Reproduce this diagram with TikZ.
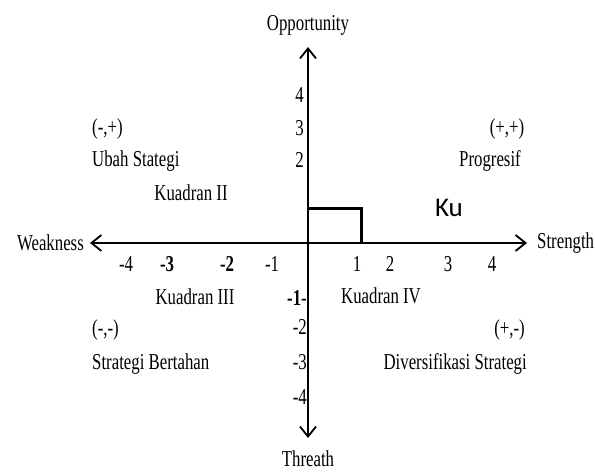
\documentclass[tikz,border=0pt]{standalone}
\usepackage{fontspec}
\setmainfont[FakeStretch=0.74]{Liberation Serif}
\newfontfamily\calibrifont{Carlito}
\usepackage{tikz}
\usetikzlibrary{positioning, arrows.meta}

\tikzset{
  axisline/.style={line width=1.8pt, {Straight Barb[length=10pt,width=16pt]}-{Straight Barb[length=10pt,width=16pt]}},
  boxline/.style={line width=3pt},
  lbl/.style={inner sep=0pt}
}

\begin{document}
\begin{tikzpicture}[x=1pt, y=-1pt, font=\fontsize{22.7}{26}\selectfont]
    \useasboundingbox (0,0) rectangle (595,473);

    % Axes
    \coordinate (wtip) at (90,243);
    \coordinate (stip) at (527,243);
    \coordinate (otip) at (308,47);
    \coordinate (ttip) at (308,438);
    \draw[axisline] (wtip) -- (stip);
    \draw[axisline] (otip) -- (ttip);

    \node[lbl] (opp) at (308,25) {Opportunity};
    \node[lbl] (thr) at (308,459) {Threath};
    \node[lbl, anchor=east] (weak) at (84,243) {Weakness};
    \node[lbl, anchor=west] (str) at (537,243) {Strength};

    % Tick labels
    \foreach \t/\px [count=\i] in {-4/126, \textbf{-3}/167, \textbf{-2}/227, -1/272, 1/357, 2/390, 3/448, 4/492}
      \node[lbl] (xt\i) at (\px,264) {\t};
    \foreach \t/\py [count=\i] in {4/95, 3/128, 2/160}
      \node[lbl, anchor=east] (yt\i) at (304,\py) {\t};
    \foreach \t/\py [count=\i] in {\textbf{-1}-/298, -2/327, -3/362, -4/397}
      \node[lbl, anchor=east] (yb\i) at (307,\py) {\t};

    % Position box
    \coordinate (rtop) at (308,209);
    \coordinate (rcorner) at (361,209);
    \coordinate (rbase) at (361,243);
    \draw[boxline] (rtop) -- (rcorner) -- (rbase);
    \node[lbl, font=\calibrifont\fontsize{27}{30}\selectfont] (ku) at (449,208) {Ku};

    % Quadrant II
    \node[lbl, anchor=west] (q2sign) at (92,129) {(-,+)};
    \node[lbl, anchor=west] (q2name) at (92,161) {Ubah Stategi};
    \node[lbl] (q2) at (191,193) {Kuadran II};

    % Quadrant I
    \node[lbl] (q1sign) at (507,129) {(+,+)};
    \node[lbl] (q1name) at (490,161) {Progresif};

    % Quadrant III
    \node[lbl] (q3) at (195,297) {Kuadran III};
    \node[lbl, anchor=west] (q3sign) at (92,330) {(-,-)};
    \node[lbl, anchor=west] (q3name) at (92,364) {Strategi Bertahan};

    % Quadrant IV
    \node[lbl] (q4) at (381,296) {Kuadran IV};
    \node[lbl, anchor=east] (q4sign) at (525,330) {(+,-)};
    \node[lbl, anchor=east] (q4name) at (527,364) {Diversifikasi Strategi};
\end{tikzpicture}
\end{document}
